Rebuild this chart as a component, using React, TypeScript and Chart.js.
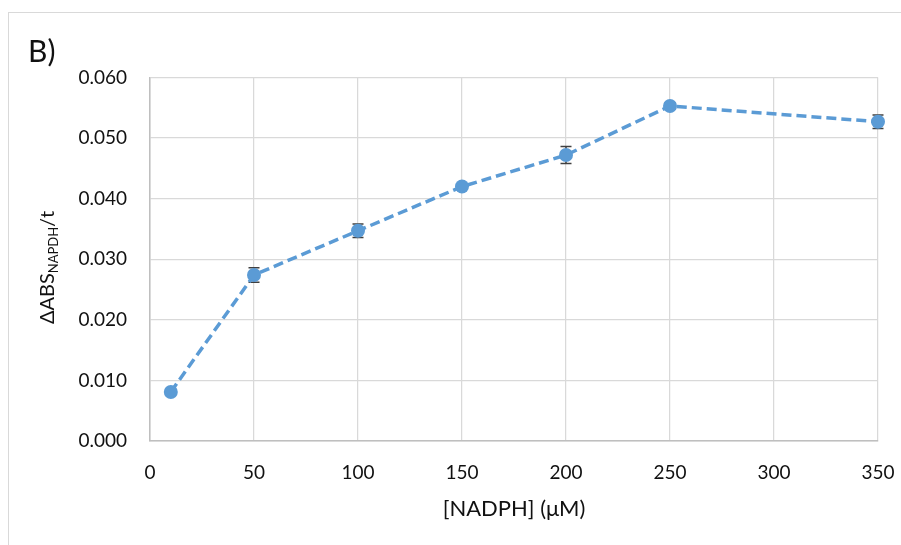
import React, { useEffect, useRef } from "react";
import { Chart, registerables } from "chart.js";

Chart.register(...registerables);

// ---- data ----
const concentrations = [10, 50, 100, 150, 200, 250, 350];
const rates = [0.0081, 0.0274, 0.0347, 0.042, 0.0472, 0.0553, 0.0527];
const rateErrors = [0.0004, 0.0012, 0.0011, 0.0004, 0.0014, 0.0005, 0.0011];
const xTickValues = [0, 50, 100, 150, 200, 250, 300, 350];
const yTickValues = [0, 0.01, 0.02, 0.03, 0.04, 0.05, 0.06];
const panelLabel = "B)";
const xTitle = "[NADPH] (μM)";
const yTitleMain = "ΔABS";
const yTitleSub = "NAPDH";
const yTitleTail = "/t";

const FONT = 'Lato, "Noto Sans", sans-serif';
const BLUE = "#5B9BD5";
const TEXT = "#111111";

const CANVAS_W = 901;
const CANVAS_H = 545;

const decorPlugin = {
  id: "decor",
  beforeDraw(chart: any) {
    const { ctx } = chart;
    ctx.save();
    ctx.fillStyle = "#d9d9d9";
    ctx.fillRect(8, 12, 1, CANVAS_H - 12);
    ctx.fillRect(8, 12, CANVAS_W - 8, 1);
    ctx.restore();
  },
  beforeDatasetsDraw(chart: any) {
    const { ctx } = chart;
    const xs = chart.scales.x;
    const ys = chart.scales.y;
    ctx.save();
    ctx.strokeStyle = "#404040";
    ctx.lineWidth = 1.5;
    concentrations.forEach((c, i) => {
      const px = xs.getPixelForValue(c);
      const top = ys.getPixelForValue(rates[i] + rateErrors[i]);
      const bot = ys.getPixelForValue(rates[i] - rateErrors[i]);
      ctx.beginPath();
      ctx.moveTo(px, top);
      ctx.lineTo(px, bot);
      ctx.moveTo(px - 5.5, top);
      ctx.lineTo(px + 5.5, top);
      ctx.moveTo(px - 5.5, bot);
      ctx.lineTo(px + 5.5, bot);
      ctx.stroke();
    });
    ctx.restore();
  },
  afterDraw(chart: any) {
    const { ctx, chartArea } = chart;
    ctx.save();
    ctx.fillStyle = TEXT;
    // panel label
    ctx.font = `30px ${FONT}`;
    ctx.textAlign = "left";
    ctx.textBaseline = "alphabetic";
    ctx.fillText(panelLabel, 28, 62);
    // x title
    ctx.font = `22px ${FONT}`;
    ctx.textAlign = "center";
    ctx.fillText(xTitle, (chartArea.left + chartArea.right) / 2, 516);
    // y title (rotated, with subscript)
    const mainFont = `20px ${FONT}`;
    const subFont = `13px ${FONT}`;
    ctx.font = mainFont;
    const wMain = ctx.measureText(yTitleMain).width;
    const wTail = ctx.measureText(yTitleTail).width;
    ctx.font = subFont;
    const wSub = ctx.measureText(yTitleSub).width;
    const total = wMain + wSub + wTail;
    ctx.translate(54, 267.5);
    ctx.rotate(-Math.PI / 2);
    ctx.textAlign = "left";
    let x0 = -total / 2;
    ctx.font = mainFont;
    ctx.fillText(yTitleMain, x0, 0);
    x0 += wMain;
    ctx.font = subFont;
    ctx.fillText(yTitleSub, x0, 4);
    x0 += wSub;
    ctx.font = mainFont;
    ctx.fillText(yTitleTail, x0, 0);
    ctx.restore();
  },
};

export default function App() {
  const canvasRef = useRef<HTMLCanvasElement | null>(null);

  useEffect(() => {
    const canvas = canvasRef.current;
    if (!canvas) return;
    const chart = new Chart(canvas, {
      type: "line",
      data: {
        datasets: [
          {
            data: concentrations.map((c, i) => ({ x: c, y: rates[i] })),
            borderColor: BLUE,
            backgroundColor: BLUE,
            borderWidth: 3.5,
            borderDash: [10, 5],
            pointRadius: 7,
            pointBorderWidth: 0,
            pointBackgroundColor: BLUE,
            pointBorderColor: BLUE,
            tension: 0,
            clip: false as any,
          },
        ],
      },
      options: {
        responsive: false,
        animation: false,
        events: [],
        layout: { padding: { left: 0, top: 77.5, right: 23, bottom: 0 } },
        plugins: {
          legend: { display: false },
          tooltip: { enabled: false },
          title: { display: false },
        },
        scales: {
          x: {
            type: "linear",
            min: 0,
            max: 350,
            afterFit(scale: any) {
              scale.height = 104;
              scale.paddingLeft = 0;
              scale.paddingRight = 0;
            },
            afterBuildTicks(scale: any) {
              scale.ticks = xTickValues.map((v) => ({ value: v }));
            },
            grid: { color: "#d9d9d9", lineWidth: 1.25, drawTicks: false },
            border: { color: "#bfbfbf", width: 1.5 },
            ticks: {
              padding: 20,
              color: TEXT,
              font: { family: FONT, size: 19 },
              callback: (v: any) => String(v),
            },
          },
          y: {
            type: "linear",
            min: 0,
            max: 0.06,
            afterFit(scale: any) {
              scale.width = 150;
              scale.paddingTop = 0;
              scale.paddingBottom = 0;
            },
            afterBuildTicks(scale: any) {
              scale.ticks = yTickValues.map((v) => ({ value: v }));
            },
            grid: { color: "#d9d9d9", lineWidth: 1.25, drawTicks: false },
            border: { color: "#bfbfbf", width: 1.5 },
            ticks: {
              padding: 23,
              color: TEXT,
              font: { family: FONT, size: 19 },
              callback: (v: any) => Number(v).toFixed(3),
            },
          },
        },
      },
      plugins: [decorPlugin],
    });
    return () => chart.destroy();
  }, []);

  return (
    <canvas
      ref={canvasRef}
      width={CANVAS_W}
      height={CANVAS_H}
      style={{
        position: "fixed",
        left: 0,
        top: 0,
        display: "block",
        width: CANVAS_W,
        height: CANVAS_H,
      }}
    />
  );
}
